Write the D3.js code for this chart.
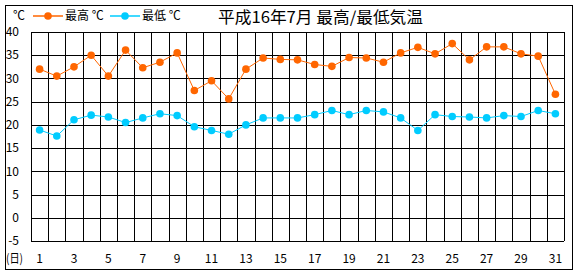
<!DOCTYPE html>
<html>
<head>
<meta charset="utf-8">
<script src="https://cdn.jsdelivr.net/npm/d3@7"></script>
<style>
  body { margin: 0; background: #fff; }
  text { font-family: "Noto Sans CJK JP", "DejaVu Sans", sans-serif; }
</style>
</head>
<body>
<svg id="main-chart"></svg>
<script>
// 平成16年7月 最高/最低気温
const days = d3.range(1, 32);
const maxTemp = [32.0, 30.5, 32.5, 35.0, 30.5, 36.1, 32.3, 33.5, 35.5, 27.4,
                 29.5, 25.6, 32.0, 34.4, 34.1, 34.0, 33.0, 32.6, 34.5, 34.4,
                 33.5, 35.5, 36.7, 35.3, 37.5, 34.0, 36.8, 36.8, 35.3, 34.8, 26.6];
const minTemp = [18.9, 17.6, 21.1, 22.1, 21.7, 20.5, 21.5, 22.4, 22.0, 19.6,
                 18.8, 18.0, 20.0, 21.5, 21.5, 21.5, 22.2, 23.1, 22.2, 23.1,
                 22.8, 21.5, 18.8, 22.2, 21.8, 21.7, 21.5, 22.0, 21.8, 23.1, 22.4];
const yTicks = d3.range(-5, 41, 5);
const xLabels = days.filter(d => d % 2 === 1);

const width = 580, height = 276;
const plotLeft = 31, plotRight = 564, plotTop = 32, plotBottom = 241;
const orange = "#ff6600", cyan = "#00ccff";

const svg = d3.select("#main-chart")
    .attr("width", width)
    .attr("height", height);

// outer frame
svg.append("rect")
    .attr("x", 5.5).attr("y", 5.5)
    .attr("width", 567).attr("height", 264)
    .attr("fill", "none").attr("stroke", "#000");

const x = d3.scaleBand().domain(days).range([plotLeft, plotRight]);
const y = d3.scaleLinear().domain([-5, 40]).range([plotBottom, plotTop]);

// grid
const grid = svg.append("g").attr("stroke", "#000").attr("shape-rendering", "crispEdges");
grid.selectAll("line.h")
  .data(yTicks)
  .join("line")
    .attr("class", "h")
    .attr("x1", plotLeft).attr("x2", plotRight)
    .attr("y1", d => Math.round(y(d)) + 0.5)
    .attr("y2", d => Math.round(y(d)) + 0.5);
grid.selectAll("line.v")
  .data(days.concat([32]))
  .join("line")
    .attr("class", "v")
    .attr("x1", d => Math.round(d === 32 ? plotRight : x(d)) + 0.5)
    .attr("x2", d => Math.round(d === 32 ? plotRight : x(d)) + 0.5)
    .attr("y1", plotTop).attr("y2", plotBottom);

// y labels
svg.append("g")
    .attr("font-size", 12)
    .attr("text-anchor", "end")
  .selectAll("text")
  .data(yTicks)
  .join("text")
    .attr("x", 19)
    .attr("y", d => y(d))
    .attr("dy", "0.35em")
    .text(d => d);

// x labels
svg.append("g")
    .attr("font-size", 12)
    .attr("text-anchor", "middle")
  .selectAll("text")
  .data(xLabels)
  .join("text")
    .attr("x", d => x(d) + x.bandwidth() / 2)
    .attr("y", 259)
    .attr("dy", "0.35em")
    .text(d => d);

svg.append("text")
    .attr("x", 6).attr("y", 259).attr("dy", "0.35em")
    .attr("font-size", 12)
    .attr("textLength", 17)
    .attr("lengthAdjust", "spacingAndGlyphs")
    .text("(日)");

// series
const series = [
  { name: "最高 ℃", values: maxTemp, color: orange },
  { name: "最低 ℃", values: minTemp, color: cyan }
];

const line = d3.line()
    .x((d, i) => x(days[i]) + x.bandwidth() / 2)
    .y(d => y(d));

series.forEach(s => {
  svg.append("path")
      .attr("d", line(s.values))
      .attr("fill", "none")
      .attr("stroke", s.color)
      .attr("stroke-width", 1);
  svg.append("g")
    .selectAll("circle")
    .data(s.values)
    .join("circle")
      .attr("cx", (d, i) => x(days[i]) + x.bandwidth() / 2)
      .attr("cy", d => y(d))
      .attr("r", 3.8)
      .attr("fill", s.color);
});

// legend
svg.append("text")
    .attr("x", 13).attr("y", 16).attr("dy", "0.35em")
    .attr("font-size", 12)
    .text("℃");

const legend = svg.append("g")
  .selectAll("g")
  .data(series)
  .join("g")
    .attr("transform", (d, i) => `translate(${33 + i * 77},16)`);
legend.append("line")
    .attr("x1", 0).attr("x2", 30)
    .attr("stroke", d => d.color).attr("stroke-width", 1.5);
legend.append("circle")
    .attr("cx", 15).attr("r", 3.8)
    .attr("fill", d => d.color);
legend.append("text")
    .attr("x", 32).attr("dy", "0.35em")
    .attr("font-size", 12)
    .text(d => d.name);

// title
svg.append("text")
    .attr("x", 218).attr("y", 17).attr("dy", "0.35em")
    .attr("font-size", 16)
    .attr("textLength", 205)
    .attr("lengthAdjust", "spacingAndGlyphs")
    .text("平成16年7月 最高/最低気温");
</script>
</body>
</html>
